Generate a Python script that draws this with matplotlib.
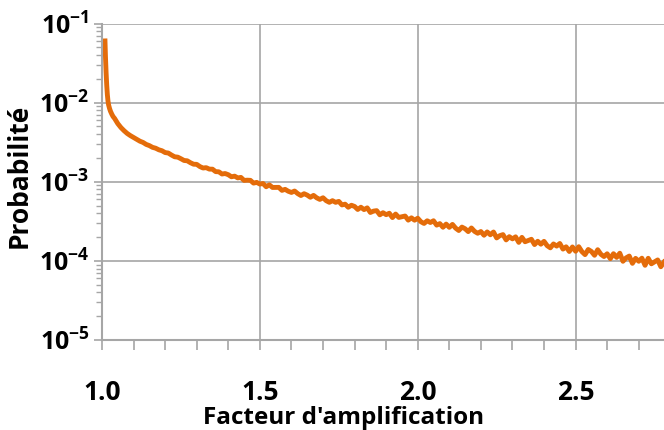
import numpy as np
import matplotlib.pyplot as plt
from matplotlib.ticker import LogLocator, MultipleLocator, NullFormatter

plt.rcParams['font.family'] = ['Open Sans', 'DejaVu Sans']
plt.rcParams['mathtext.fontset'] = 'custom'
plt.rcParams['mathtext.rm'] = 'Open Sans:bold'
plt.rcParams['mathtext.bf'] = 'Open Sans:bold'

# steep head of the curve near 1.0
x_head = [1.0095, 1.011, 1.013, 1.015, 1.017, 1.019, 1.021, 1.024, 1.027, 1.031, 1.035]
log_head = [-1.22, -1.42, -1.62, -1.78, -1.90, -1.98, -2.03, -2.075, -2.11, -2.145, -2.175]

# body of the curve, one value every 0.01 from 1.04 to 2.78 (log10 of probability)
x_start = 1.04
x_step = 0.01
log_body = [
    -2.200, -2.265, -2.315, -2.355, -2.390, -2.417,
    -2.440, -2.463, -2.487, -2.503, -2.528, -2.543, -2.565, -2.576, -2.596, -2.608,
    -2.631, -2.637, -2.662, -2.684, -2.689, -2.709, -2.731, -2.735, -2.759, -2.778,
    -2.780, -2.808, -2.826, -2.822, -2.840, -2.841, -2.872, -2.874, -2.902, -2.896,
    -2.911, -2.937, -2.929, -2.951, -2.945, -2.983, -2.980, -2.982, -3.017, -3.008,
    -3.029, -3.022, -3.063, -3.039, -3.072, -3.071, -3.071, -3.109, -3.096, -3.120,
    -3.135, -3.117, -3.150, -3.174, -3.151, -3.169, -3.196, -3.172, -3.203, -3.223,
    -3.202, -3.239, -3.260, -3.239, -3.260, -3.248, -3.293, -3.283, -3.322, -3.297,
    -3.312, -3.350, -3.322, -3.352, -3.330, -3.388, -3.371, -3.365, -3.418, -3.391,
    -3.416, -3.398, -3.453, -3.408, -3.451, -3.442, -3.433, -3.485, -3.456, -3.486,
    -3.461, -3.505, -3.527, -3.493, -3.515, -3.493, -3.548, -3.529, -3.575, -3.535,
    -3.576, -3.539, -3.586, -3.616, -3.573, -3.594, -3.630, -3.584, -3.627, -3.651,
    -3.629, -3.676, -3.634, -3.670, -3.635, -3.710, -3.681, -3.668, -3.735, -3.694,
    -3.722, -3.696, -3.766, -3.703, -3.758, -3.743, -3.727, -3.794, -3.752, -3.789,
    -3.753, -3.808, -3.835, -3.786, -3.813, -3.780, -3.851, -3.822, -3.881, -3.824,
    -3.878, -3.821, -3.883, -3.921, -3.856, -3.881, -3.929, -3.859, -3.916, -3.945,
    -3.910, -3.972, -3.909, -3.956, -3.903, -4.005, -3.962, -3.939, -4.031, -3.968,
    -4.005, -3.966, -4.056, -3.967, -4.037, -4.013, -3.988, -4.074, -4.015,
]

y_ticks = [1e-5, 1e-4, 1e-3, 1e-2, 1e-1]
y_ticklabels = ['$10^{-5}$', '$10^{-4}$', '$10^{-3}$', '$10^{-2}$', '$10^{-1}$']
x_ticks = [1.0, 1.5, 2.0, 2.5]
x_ticklabels = ['1.0', '1.5', '2.0', '2.5']

x_body = x_start + x_step * np.arange(len(log_body))
x = np.concatenate([x_head, x_body])
y = 10 ** np.concatenate([log_head, log_body])

fig = plt.figure(figsize=(6.64, 4.30), dpi=100)
ax = fig.add_axes([0.1536, 0.2093, 0.8464, 0.736])

ax.plot(x, y, color='#E46C0A', lw=3.5, solid_joinstyle='round')

ax.set_yscale('log')
ax.set_ylim(1e-5, 1e-1)
ax.set_xlim(1.0, 2.78)

ax.set_yticks(y_ticks)
ax.set_yticklabels(y_ticklabels, fontsize=18, fontweight='bold')
ax.yaxis.set_minor_locator(LogLocator(base=10, subs=np.arange(2, 10)))
ax.yaxis.set_minor_formatter(NullFormatter())

ax.set_xticks(x_ticks)
ax.set_xticklabels(x_ticklabels, fontsize=19, fontweight='bold')
ax.xaxis.set_minor_locator(MultipleLocator(0.1))

ax.grid(True, which='major', color='#A6A6A6', lw=1.2)
ax.set_axisbelow(True)

for s in ['top', 'right']:
    ax.spines[s].set_visible(False)
for s in ['left', 'bottom']:
    ax.spines[s].set_color('#A6A6A6')
    ax.spines[s].set_linewidth(1.5)

ax.tick_params(axis='x', which='both', direction='out', length=7, width=1.2,
               color='#A6A6A6', pad=21)
ax.tick_params(axis='y', which='major', direction='out', length=6, width=1.2,
               color='#A6A6A6', pad=3)
ax.tick_params(axis='y', which='minor', direction='out', length=4, width=1.0,
               color='#A6A6A6')

ax.set_xlabel("Facteur d'amplification", fontsize=17.5, fontweight='bold')
ax.xaxis.set_label_coords(0.43, -0.21)
ax.set_ylabel('Probabilité', fontsize=19, fontweight='bold')
ax.yaxis.set_label_coords(-0.123, 0.52)

fig.savefig('out.png', dpi=100)
